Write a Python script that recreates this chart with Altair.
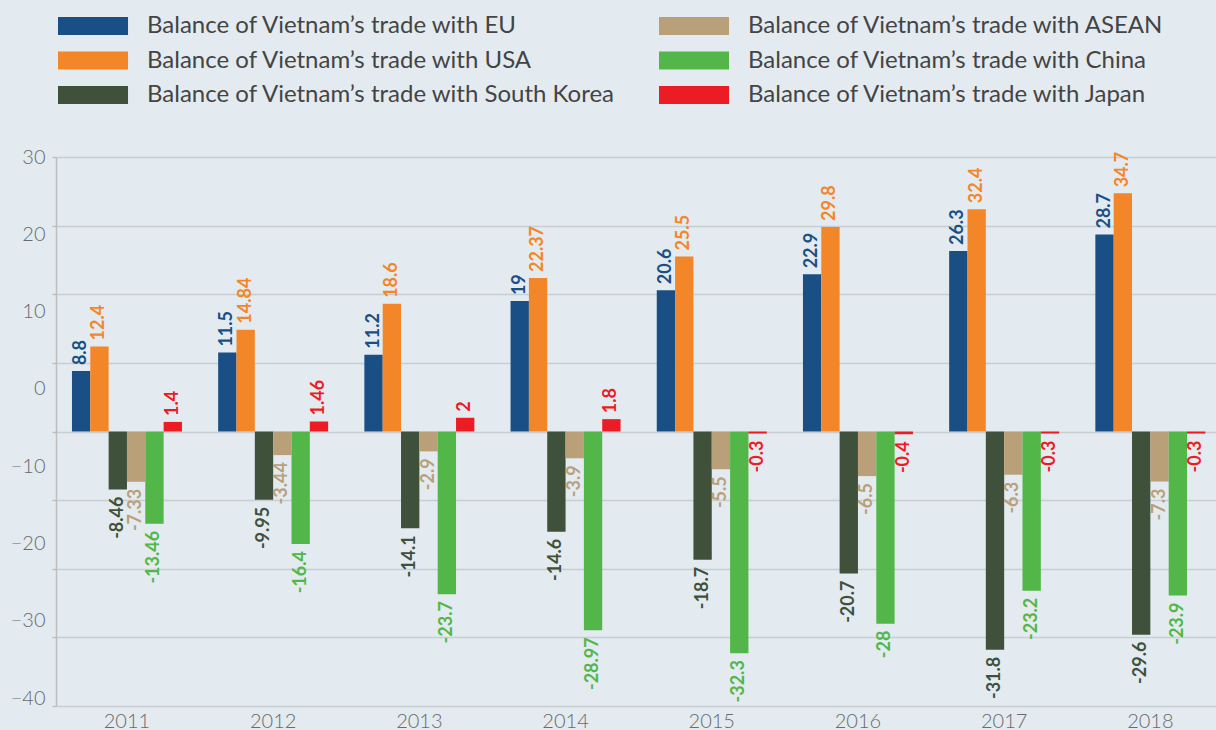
import altair as alt
import pandas as pd

years = ["2011", "2012", "2013", "2014", "2015", "2016", "2017", "2018"]
series = [
    "Balance of Vietnam’s trade with EU",
    "Balance of Vietnam’s trade with USA",
    "Balance of Vietnam’s trade with South Korea",
    "Balance of Vietnam’s trade with ASEAN",
    "Balance of Vietnam’s trade with China",
    "Balance of Vietnam’s trade with Japan",
]
colors = ["#1A4F85", "#F4862A", "#3F513B", "#B9A079", "#52B748", "#EC1C24"]

eu = [8.8, 11.5, 11.2, 19, 20.6, 22.9, 26.3, 28.7]
usa = [12.4, 14.84, 18.6, 22.37, 25.5, 29.8, 32.4, 34.7]
south_korea = [-8.46, -9.95, -14.1, -14.6, -18.7, -20.7, -31.8, -29.6]
asean = [-7.33, -3.44, -2.9, -3.9, -5.5, -6.5, -6.3, -7.3]
china = [-13.46, -16.4, -23.7, -28.97, -32.3, -28, -23.2, -23.9]
japan = [1.4, 1.46, 2, 1.8, -0.3, -0.4, -0.3, -0.3]

grid_values = [-40, -30, -20, -10, 0, 10, 20, 30, 40]
tick_labels = [30, 20, 10, 0, -10, -20, -30, -40]

all_vals = [eu, usa, south_korea, asean, china, japan]
rows = []
for s, vals in zip(series, all_vals):
    for y, v in zip(years, vals):
        rows.append({"year": y, "series": s, "value": v, "label": f"{v:g}"})
df = pd.DataFrame(rows)

FONT = "Lato"
LABEL_GRAY = "#6a6a6a"

x = alt.X(
    "year:N",
    sort=years,
    scale=alt.Scale(paddingInner=0.2476, paddingOuter=0.091, align=0.6),
    axis=alt.Axis(title=None, domain=False, ticks=False, labelFontSize=20,
                  labelColor=LABEL_GRAY, labelFont=FONT, labelFontWeight=300,
                  labelPadding=5, labelAngle=0),
)
xoff = alt.XOffset("series:N", sort=series,
                   scale=alt.Scale(paddingInner=0, paddingOuter=0))
color = alt.Color(
    "series:N",
    scale=alt.Scale(domain=series, range=colors),
    legend=alt.Legend(
        title=None, orient="none", legendX=-1, legendY=-143, columns=2,
        columnPadding=40, rowPadding=10.5, values=series,
        symbolType="M-1,-1H6.78V1H-1Z", symbolSize=324, symbolStrokeWidth=0,
        symbolOpacity=1, labelOffset=68, labelFontSize=24, labelFont=FONT,
        labelFontWeight=400, labelColor="#444444", labelLimit=0, padding=0,
    ),
)
yscale = alt.Scale(domain=[-40, 40], nice=False, zero=False)
yaxis = alt.Axis(orient="left", values=grid_values, grid=True, labels=False,
                 ticks=True, tickSize=4, tickColor="#BDBDBD", tickWidth=1.5,
                 domain=True, domainColor="#BDBDBD", domainWidth=1.5,
                 gridColor="#C8CDD1", gridWidth=1.5, title=None)
y = alt.Y("value:Q", scale=yscale, axis=yaxis)

base = alt.Chart(df)

bars = base.mark_bar().encode(x=x, xOffset=xoff, y=y, color=color)

txt = base.encode(x=x, xOffset=xoff, y=y, text=alt.Text("label:N"), color=color)
pos = txt.transform_filter("datum.value >= 0").mark_text(
    angle=270, align="left", baseline="middle", dx=6, fontSize=18,
    font=FONT, fontWeight="bold")
neg = txt.transform_filter("datum.value < 0").mark_text(
    angle=270, align="right", baseline="middle", dx=-7, fontSize=18,
    font=FONT, fontWeight="bold")

lab_df = pd.DataFrame({"v": tick_labels})
labaxis = alt.Chart(lab_df).mark_point(opacity=0).encode(
    y=alt.Y("v:Q", scale=alt.Scale(domain=[-41, 30], nice=False, zero=False),
            axis=alt.Axis(orient="left", values=tick_labels, grid=False, ticks=False,
                          domain=False, labelFontSize=20, labelColor=LABEL_GRAY,
                          labelFont=FONT, labelFontWeight=300, labelPadding=11,
                          title=None)),
)

chart = (
    alt.layer(alt.layer(bars, pos, neg), labaxis)
    .resolve_scale(y="independent")
    .properties(
        width=1160, height=549,
        padding={"left": 56, "top": 157, "right": 0, "bottom": 24},
        autosize=alt.AutoSizeParams(type="none"),
        background="#E3EBF0",
    )
    .configure_view(stroke=None)
)

chart.save("out.html", embed_options={"renderer": "svg", "actions": False})
